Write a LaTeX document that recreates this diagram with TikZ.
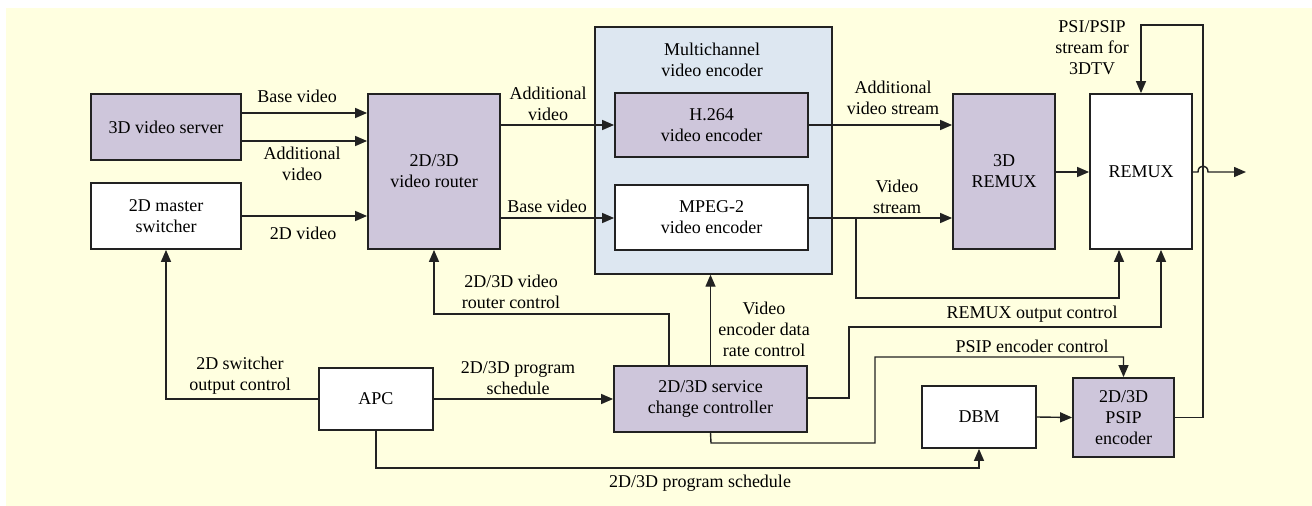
\documentclass[tikz,border=0pt]{standalone}
\usepackage{fontspec}
\setmainfont{Liberation Serif}
\usetikzlibrary{arrows.meta}
\definecolor{bgyellow}{HTML}{FFFFE0}
\definecolor{boxpurple}{HTML}{CEC6DB}
\definecolor{panelblue}{HTML}{DDE7F1}
\definecolor{linegray}{HTML}{222222}
\begin{document}
\begin{tikzpicture}[x=1pt,y=-1pt,
  font=\fontsize{18}{21}\selectfont,
  box/.style={draw=linegray, line width=1.8pt, align=center, inner sep=0pt},
  pbox/.style={box, fill=boxpurple},
  wbox/.style={box, fill=white},
  conn/.style={draw=linegray, line width=1.4pt},
  arr/.style={conn, -{Triangle[length=12pt,width=10pt]}},
  lbl/.style={align=center, inner sep=0pt}]

% page and background
\useasboundingbox (0,0) rectangle (1312,506);
\fill[bgyellow] (6,8) rectangle (1312,506);

% multichannel encoder panel
\node[box, fill=panelblue, line width=1.4pt, minimum width=237pt, minimum height=247pt] (panel) at (713.5,150.5) {};
\node[lbl] (paneltitle) at (712,60) {Multichannel\\video encoder};

% blocks
\node[pbox, minimum width=150pt, minimum height=66pt] (srv) at (166,127) {3D video server};
\node[wbox, minimum width=150pt, minimum height=66pt] (sw) at (166,216) {2D master\\switcher};
\node[pbox, minimum width=132pt, minimum height=155pt] (rtr) at (434,171.5) {2D/3D\\video router};
\node[pbox, minimum width=193pt, minimum height=64pt] (h264) at (711.5,125) {H.264\\video encoder};
\node[wbox, minimum width=193pt, minimum height=65pt] (mpeg) at (711.5,217.5) {MPEG-2\\video encoder};
\node[pbox, minimum width=102pt, minimum height=155pt] (r3d) at (1004,171.5) {3D\\REMUX};
\node[wbox, minimum width=102pt, minimum height=155pt] (remux) at (1141,171.5) {REMUX};
\node[wbox, minimum width=114pt, minimum height=62pt] (apc) at (376,399) {APC};
\node[pbox, minimum width=193pt, minimum height=66pt] (scc) at (710.5,399) {2D/3D service\\change controller};
\node[wbox, minimum width=114pt, minimum height=62pt] (dbm) at (979,417) {DBM};
\node[pbox, minimum width=101pt, minimum height=79pt] (psip) at (1123.5,417.5) {2D/3D\\PSIP\\encoder};

\coordinate (out) at (1246,172);

% video paths
\draw[arr] (srv.east |- 0,113) -- (rtr.west |- 0,113);
\node[lbl] (l1) at (297,96) {Base video};
\draw[arr] (srv.east |- 0,141) -- (rtr.west |- 0,141);
\node[lbl] (l2) at (302,164) {Additional\\video};
\draw[arr] (sw.east |- 0,216) -- (rtr.west |- 0,216);
\node[lbl] (l3) at (303,233) {2D video};

\draw[arr] (rtr.east |- 0,125) -- (h264.west |- 0,125);
\node[lbl] (l4) at (548,104) {Additional\\video};
\draw[arr] (rtr.east |- 0,218) -- (mpeg.west |- 0,218);
\node[lbl] (l5) at (547,206) {Base video};

\draw[arr] (h264.east |- 0,125) -- (r3d.west |- 0,125);
\node[lbl] (l6) at (893,98) {Additional\\video stream};
\draw[arr] (mpeg.east |- 0,218) -- (r3d.west |- 0,218);
\node[lbl] (l7) at (897,197) {Video\\stream};

\draw[arr] (r3d.east |- 0,172) -- (remux.west |- 0,172);
\draw[arr] (remux.east |- 0,172) -- (1198,172) .. controls (1198,164) and (1208,164) .. (1208,172) -- (out);

% PSI/PSIP feedback
\draw[arr] (psip.east) -- (1203,417.5) -- (1203,25) -- (1141,25) -- (remux.north);
\node[lbl] (l8) at (1092,48) {PSI/PSIP\\stream for\\3DTV};

% REMUX controls
\draw[arr] (856,218) -- (856,298) -- (1119,298) -- (remux.south -| 1119,0);
\draw[arr] (scc.east |- 0,398) -- (849,398) -- (849,327) -- (1161,327) -- (remux.south -| 1161,0);
\node[lbl] (l9) at (1032,314) {REMUX output control};

% PSIP encoder control
\draw[arr] (scc.south) -- (711,443) -- (875,443) -- (875,357) -- (1123.5,357) -- (psip.north);
\node[lbl] (l10) at (1032,346) {PSIP encoder control};

% encoder data rate control
\draw[arr] (scc.north) -- (panel.south -| scc.north);
\node[lbl] (l11) at (764,329) {Video\\encoder data\\rate control};

% router control
\draw[arr] (scc.north -| 669,0) -- (669,314) -- (434,314) -- (rtr.south);
\node[lbl] (l12) at (511,292) {2D/3D video\\router control};

% APC outputs
\draw[arr] (apc.west) -- (166,399) -- (sw.south);
\node[lbl] (l13) at (240,376) {2D switcher\\output control};
\draw[arr] (apc.east) -- (scc.west);
\node[lbl] (l14) at (518,378) {2D/3D program\\schedule};
\draw[arr] (apc.south) -- (376,468) -- (979,468) -- (dbm.south);
\node[lbl] (l15) at (700,483) {2D/3D program schedule};

\draw[arr] (dbm.east) -- (psip.west);
\end{tikzpicture}
\end{document}
